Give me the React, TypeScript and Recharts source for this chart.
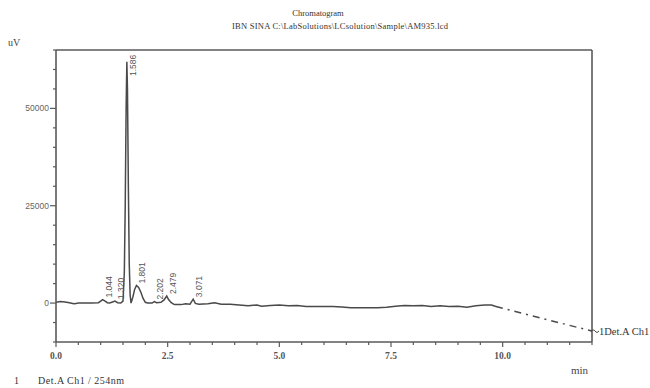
import React from "react";
import {
  ComposedChart,
  Line,
  Scatter,
  XAxis,
  YAxis,
  ReferenceLine,
  ReferenceDot,
} from "recharts";

// retention time (min) and detector signal (uV)
const times = [
  0.0, 0.1, 0.2, 0.3, 0.4, 0.45, 0.5, 0.6, 0.8, 0.95, 1.0, 1.044, 1.1, 1.15, 1.2, 1.25, 1.32, 1.38,
  1.45, 1.5, 1.53, 1.55, 1.57, 1.586, 1.6, 1.62, 1.64, 1.66, 1.68, 1.72, 1.76, 1.801, 1.85, 1.9,
  1.95, 2.0, 2.05, 2.15, 2.202, 2.25, 2.35, 2.42, 2.479, 2.52, 2.58, 2.65, 2.8, 2.9, 3.0, 3.071,
  3.12, 3.2, 3.4, 3.55, 3.7, 3.9, 4.1, 4.3, 4.5, 4.6, 4.8, 5.0, 5.2, 5.4, 5.6, 5.8, 6.0, 6.2, 6.4,
  6.6, 6.8, 7.0, 7.2, 7.4, 7.6, 7.8, 8.0, 8.2, 8.4, 8.6, 8.8, 9.0, 9.2, 9.4, 9.6, 9.75, 9.85,
];
const signal = [
  200, 400, 250, 100, -200, -100, 0, 0, 0, 100, 500, 900, 500, 100, 0, 200, 500, 100,
  0, 500, 8000, 25000, 50000, 62000, 55000, 30000, 10000, 2000, 0, 1500, 3500, 4500, 4000, 2800,
  1200, 200, 0, 0, 400, 100, 200, 800, 1800, 900, 100, -400, -400, -200, -300, 1000,
  -100, -300, -200, 100, -300, -300, -500, -700, -500, -800, -600, -500, -700, -600, -900, -900, -900, -900, -1000,
  -1200, -1200, -1200, -1200, -1100, -800, -600, -700, -600, -900, -700, -900, -800, -1100, -700, -500, -500, -900,
];

// dashed extension after the end of the run
const tailTimes = [9.85, 12.0];
const tailSignal = [-900, -7200];

// labelled peaks
const peakTimes = [1.044, 1.32, 1.586, 1.801, 2.202, 2.479, 3.071];
const peakHeights = [900, 500, 62000, 4500, 400, 1800, 1000];
const peakLabels = ["1.044", "1.320", "1.586", "1.801", "2.202", "2.479", "3.071"];

const xTicks = [0, 0.5, 1, 1.5, 2, 2.5, 3, 3.5, 4, 4.5, 5, 5.5, 6, 6.5, 7, 7.5, 8, 8.5, 9, 9.5, 10, 10.5, 11, 11.5, 12];
const xLabelled = [0, 2.5, 5, 7.5, 10];
const yTicks = [-10000, -5000, 0, 5000, 10000, 15000, 20000, 25000, 30000, 35000, 40000, 45000, 50000, 55000, 60000, 65000];
const yLabelled = [0, 25000, 50000];

const trace = times.map((t, i) => ({ t, v: signal[i] }));
const tail = tailTimes.map((t, i) => ({ t, v: tailSignal[i] }));
const peaks = peakTimes.map((t, i) => ({ t, v: peakHeights[i], label: peakLabels[i] }));

const frame = "#5a5a5a";
const ink = "#4a4a4a";
const serif = "'Liberation Serif', 'DejaVu Serif', serif";
const sans = "'Liberation Sans', 'DejaVu Sans', sans-serif";
const PLOT_TOP = 50;

const XTick = ({ x, y, payload }: any) => {
  const major = xLabelled.includes(payload.value);
  return (
    <g>
      <line x1={x} x2={x} y1={y} y2={y + (major ? 5 : 3)} stroke={frame} strokeWidth={1.2} />
      {major && (
        <text x={x} y={y + 17} textAnchor="middle" fontFamily={serif} fontSize={9.5} fontWeight="bold" fill="#555">
          {payload.value.toFixed(1)}
        </text>
      )}
    </g>
  );
};

const YTick = ({ x, y, payload }: any) => {
  const major = yLabelled.includes(payload.value);
  return (
    <g>
      <line x1={x} x2={x - (major ? 6 : 3)} y1={y} y2={y} stroke={frame} strokeWidth={1.2} />
      {major && (
        <text x={x - 7} y={y + 3} textAnchor="end" fontFamily={sans} fontSize={8.5} fill="#666">
          {payload.value}
        </text>
      )}
    </g>
  );
};

const PeakLabel = ({ cx, cy, payload }: any) => {
  // keep tall labels inside the frame
  const bottom = Math.max(cy - 2, PLOT_TOP + 26);
  const x = cx + 9;
  return (
    <text
      x={x}
      y={bottom}
      transform={`rotate(-90 ${x} ${bottom})`}
      fontFamily={sans}
      fontSize={8.5}
      fill="#555"
    >
      {payload.label}
    </text>
  );
};

const EndTag = ({ cx, cy }: any) => (
  <g>
    <path d={`M ${cx - 1} ${cy + 1} q 2 -4 4 -1 t 4 0`} stroke={ink} fill="none" strokeWidth={1} />
    <text x={cx + 7} y={cy + 4} fontFamily={serif} fontSize={10.5} fill="#333">
      1Det.A Ch1
    </text>
  </g>
);

export default function App() {
  return (
    <div style={{ position: "absolute", left: 0, top: 0, width: 650, height: 388, background: "#fff" }}>
      <ComposedChart width={650} height={388} margin={{ top: PLOT_TOP, right: 58, bottom: 16, left: 0 }}>
        <text x={318} y={16} textAnchor="middle" fontFamily={serif} fontSize={8.5} fill="#333">
          Chromatogram
        </text>
        <text x={340} y={29} textAnchor="middle" fontFamily={serif} fontSize={8.5} fill="#333" textLength={216}>
          IBN SINA C:\LabSolutions\LCsolution\Sample\AM935.lcd
        </text>
        <text x={8} y={46} fontFamily={serif} fontSize={10} fill="#444">
          uV
        </text>
        <text x={571} y={374} fontFamily={serif} fontSize={11} fill="#444">
          min
        </text>
        <text x={14} y={384} fontFamily={serif} fontSize={10} fill="#333">
          1
        </text>
        <text x={38} y={384} fontFamily={serif} fontSize={10} fill="#333" textLength={86}>
          Det.A Ch1 / 254nm
        </text>

        <XAxis
          dataKey="t"
          type="number"
          domain={[0, 12]}
          ticks={xTicks}
          interval={0}
          allowDataOverflow
          height={30}
          tickSize={0}
          tickMargin={0}
          tickLine={false}
          axisLine={{ stroke: frame, strokeWidth: 1.6 }}
          tick={<XTick />}
        />
        <YAxis
          type="number"
          domain={[-10000, 65000]}
          ticks={yTicks}
          interval={0}
          allowDataOverflow
          width={56}
          tickSize={0}
          tickMargin={0}
          tickLine={false}
          axisLine={{ stroke: frame, strokeWidth: 1.6 }}
          tick={<YTick />}
        />
        <ReferenceLine y={65000} stroke={frame} strokeWidth={1.6} />
        <ReferenceLine x={12} stroke={frame} strokeWidth={1.6} />

        <Line
          data={trace}
          dataKey="v"
          type="linear"
          stroke={ink}
          strokeWidth={1.5}
          dot={false}
          isAnimationActive={false}
        />
        <Line
          data={tail}
          dataKey="v"
          type="linear"
          stroke={ink}
          strokeWidth={1.5}
          strokeDasharray="7 5 2 5"
          dot={false}
          isAnimationActive={false}
        />
        <Scatter data={peaks} dataKey="v" shape={<PeakLabel />} isAnimationActive={false} />
        <ReferenceDot x={tailTimes[1]} y={tailSignal[1]} r={0} shape={<EndTag />} ifOverflow="visible" />
      </ComposedChart>
    </div>
  );
}
